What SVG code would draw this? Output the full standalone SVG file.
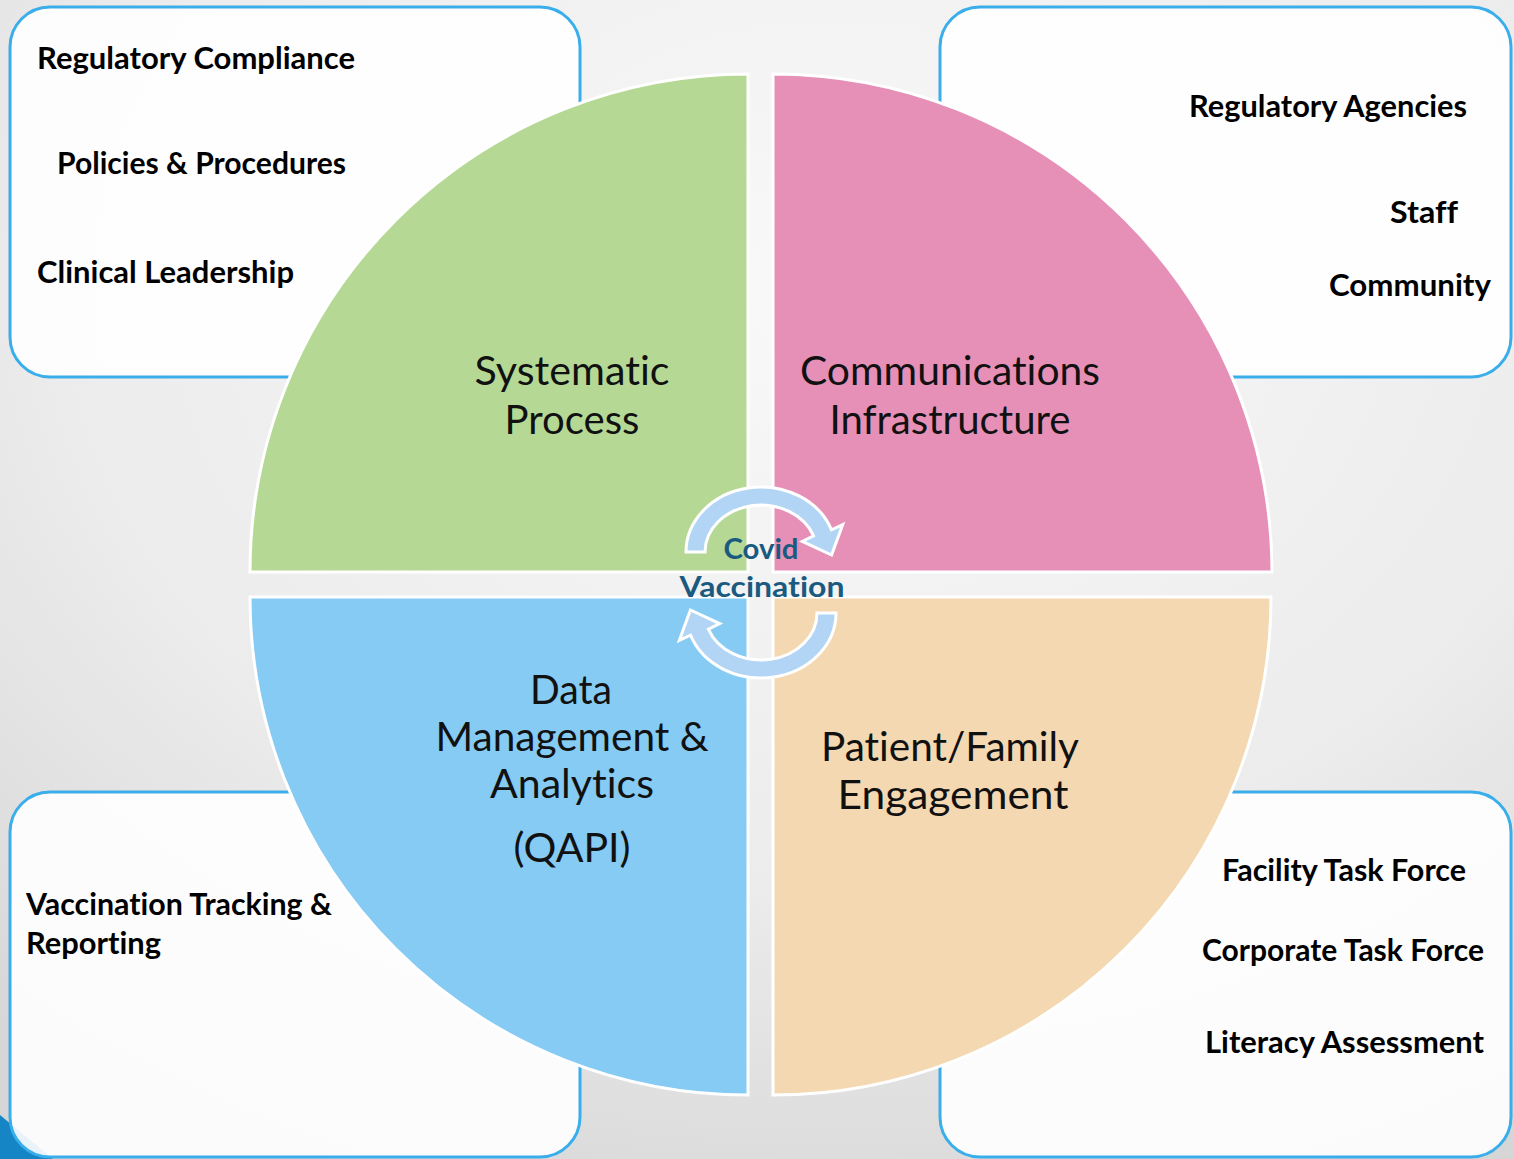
<svg xmlns="http://www.w3.org/2000/svg" width="1514" height="1159" viewBox="0 0 1514 1159">
  <defs>
    <radialGradient id="bg" cx="55%" cy="25%" r="85%">
      <stop offset="0" stop-color="#f9f9f9"/>
      <stop offset="0.6" stop-color="#ececec"/>
      <stop offset="1" stop-color="#d6d6d6"/>
    </radialGradient>
    <style>
      text { font-variant-ligatures: none; font-feature-settings: "liga" 0, "dlig" 0; }
      .box { fill: #ffffff; fill-opacity: 0.9; stroke: #3aaeea; stroke-width: 3; }
      .quad { stroke: #ffffff; stroke-width: 3; }
      .lbl { font-family: Lato, "Noto Sans", "Liberation Sans", sans-serif; font-weight: 700; font-size: 30px; fill: #000000; }
      .qlbl { font-family: Lato, "Noto Sans", "Liberation Sans", sans-serif; font-weight: 400; font-size: 41px; fill: #111111; text-anchor: middle; }
      .ctr { font-family: Lato, "Noto Sans", "Liberation Sans", sans-serif; font-weight: 700; font-size: 29px; fill: #1a5a80; text-anchor: middle; }
      .arrow { fill: #b3d5f5; stroke: #ffffff; stroke-width: 3; stroke-linejoin: miter; }
    </style>
  </defs>

  <rect x="0" y="0" width="1514" height="1159" fill="url(#bg)"/>
  <polygon points="0,1115 0,1159 53,1159" fill="#1585c6"/>

  <g id="box-top-left">
    <rect class="box" x="10" y="7" width="570" height="370" rx="40" ry="40"/>
    <text class="lbl" x="37" y="69" textLength="318" lengthAdjust="spacingAndGlyphs">Regulatory Compliance</text>
    <text class="lbl" x="57" y="174" textLength="289" lengthAdjust="spacingAndGlyphs">Policies &amp; Procedures</text>
    <text class="lbl" x="37" y="283" textLength="257" lengthAdjust="spacingAndGlyphs">Clinical Leadership</text>
  </g>

  <g id="box-top-right">
    <rect class="box" x="940" y="7" width="571" height="370" rx="40" ry="40"/>
    <text class="lbl" x="1189" y="117" textLength="278" lengthAdjust="spacingAndGlyphs">Regulatory Agencies</text>
    <text class="lbl" x="1390" y="223" textLength="68" lengthAdjust="spacingAndGlyphs">Staff</text>
    <text class="lbl" x="1329" y="296" textLength="162" lengthAdjust="spacingAndGlyphs">Community</text>
  </g>

  <g id="box-bottom-left">
    <rect class="box" x="10" y="792" width="570" height="365" rx="40" ry="40"/>
    <text class="lbl" x="26" y="915" textLength="306" lengthAdjust="spacingAndGlyphs">Vaccination Tracking &amp;</text>
    <text class="lbl" x="26" y="954" textLength="135" lengthAdjust="spacingAndGlyphs">Reporting</text>
  </g>

  <g id="box-bottom-right">
    <rect class="box" x="940" y="792" width="571" height="365" rx="40" ry="40"/>
    <text class="lbl" x="1222" y="881" textLength="244" lengthAdjust="spacingAndGlyphs">Facility Task Force</text>
    <text class="lbl" x="1202" y="961" textLength="282" lengthAdjust="spacingAndGlyphs">Corporate Task Force</text>
    <text class="lbl" x="1205" y="1053" textLength="279" lengthAdjust="spacingAndGlyphs">Literacy Assessment</text>
  </g>

  <g id="quadrant-systematic-process">
    <path class="quad" fill="#b5d995" d="M 748 572 L 250 572 A 498 498 0 0 1 748 74 Z"/>
    <text class="qlbl" x="572" y="385" textLength="195" lengthAdjust="spacingAndGlyphs">Systematic</text>
    <text class="qlbl" x="572" y="434" textLength="135" lengthAdjust="spacingAndGlyphs">Process</text>
  </g>

  <g id="quadrant-communications-infrastructure">
    <path class="quad" fill="#e690b7" d="M 773 572 L 773 74 A 499 499 0 0 1 1272 572 Z"/>
    <text class="qlbl" x="950" y="385" textLength="300" lengthAdjust="spacingAndGlyphs">Communications</text>
    <text class="qlbl" x="950" y="434" textLength="241" lengthAdjust="spacingAndGlyphs">Infrastructure</text>
  </g>

  <g id="quadrant-data-management">
    <path class="quad" fill="#85cbf3" d="M 748 597 L 250 597 A 498 498 0 0 0 748 1095 Z"/>
    <text class="qlbl" x="571" y="704" textLength="82" lengthAdjust="spacingAndGlyphs">Data</text>
    <text class="qlbl" x="572" y="751" textLength="273" lengthAdjust="spacingAndGlyphs">Management &amp;</text>
    <text class="qlbl" x="572" y="798" textLength="164" lengthAdjust="spacingAndGlyphs">Analytics</text>
    <text class="qlbl" x="572" y="862" textLength="117" lengthAdjust="spacingAndGlyphs">(QAPI)</text>
  </g>

  <g id="quadrant-patient-family-engagement">
    <path class="quad" fill="#f4d8b1" d="M 773 597 L 1271 597 A 498 498 0 0 1 773 1095 Z"/>
    <text class="qlbl" x="950" y="761" textLength="258" lengthAdjust="spacingAndGlyphs">Patient/Family</text>
    <text class="qlbl" x="953" y="809" textLength="231" lengthAdjust="spacingAndGlyphs">Engagement</text>
  </g>

  <g id="connectors">
    <path id="arrow-upper" class="arrow" d="M 686 552 A 75 65 0 0 1 831.5 529.8 L 842.7 524.6 L 831.6 555 L 802.3 541.4 L 813.6 535.9 A 56 47 0 0 0 705 552 Z"/>
    <path id="arrow-lower" class="arrow" transform="rotate(180 761 582.5)" d="M 686 552 A 75 65 0 0 1 831.5 529.8 L 842.7 524.6 L 831.6 555 L 802.3 541.4 L 813.6 535.9 A 56 47 0 0 0 705 552 Z"/>
  </g>

  <g id="center-covid-vaccination">
    <text class="ctr" x="761" y="559" textLength="75" lengthAdjust="spacingAndGlyphs">Covid</text>
    <text class="ctr" x="762" y="597" textLength="165" lengthAdjust="spacingAndGlyphs">Vaccination</text>
  </g>
</svg>
